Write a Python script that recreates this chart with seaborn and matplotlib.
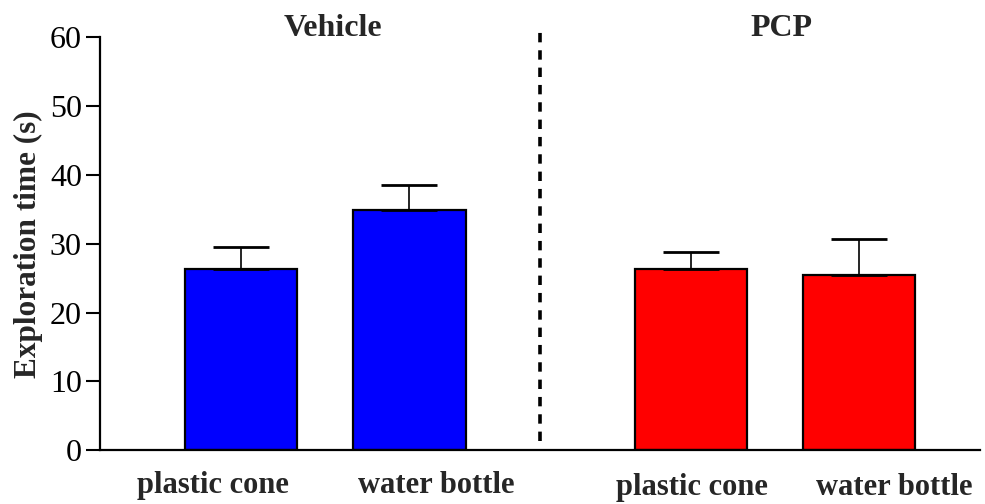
import matplotlib
matplotlib.use("Agg")
import matplotlib.pyplot as plt
import matplotlib.transforms as mtransforms
import seaborn as sns
import pandas as pd

# Exploration data: mean and SEM per object for each treatment group
groups = ["Vehicle", "Vehicle", "PCP", "PCP"]
objects = ["plastic cone", "water bottle", "plastic cone", "water bottle"]
means = [26.4, 34.9, 26.3, 25.4]
sems = [3.1, 3.7, 2.5, 5.3]
group_titles = ["Vehicle", "PCP"]
y_ticks = [0, 10, 20, 30, 40, 50, 60]

# bar positions along a numeric axis (gap between the two groups)
positions = [0.0, 1.0, 2.67, 3.67]

df = pd.DataFrame({"pos": positions, "group": groups, "object": objects,
                   "mean": means, "sem": sems})

sns.set_style("ticks")
plt.rcParams["font.family"] = ["Liberation Serif", "DejaVu Serif"]

fig = plt.figure(figsize=(9.85, 5.04), dpi=100)
ax = fig.add_axes([0.1015, 0.1071, 0.8934, 0.8185])

sns.barplot(data=df, x="pos", y="mean", hue="group", native_scale=True,
            palette={"Vehicle": "#0000FF", "PCP": "#FF0000"}, width=0.665,
            edgecolor="black", linewidth=1.6, errorbar=None, legend=False,
            saturation=1, ax=ax)

# upper-only SEM whiskers
ax.errorbar(df["pos"], df["mean"], yerr=[[0] * len(df), df["sem"]],
            fmt="none", ecolor="black", elinewidth=1.2, capsize=20.5,
            capthick=2.0, zorder=1)

ax.set_xlim(-0.837, 4.386)
ax.set_ylim(0, 60)
ax.set_yticks(y_ticks)
ax.set_yticklabels([str(t) for t in y_ticks], fontsize=23)
ax.tick_params(axis="y", length=10, width=1.5, pad=3, colors="black")
ax.set_xticks([])
ax.set_xlabel("")
ax.set_ylabel("Exploration time (s)", fontsize=22.5, fontweight="bold", labelpad=5)

for side in ("top", "right"):
    ax.spines[side].set_visible(False)
for side in ("left", "bottom"):
    ax.spines[side].set_linewidth(1.6)
    ax.spines[side].set_color("black")

# dashed divider between the treatment groups
ax.plot([1.774, 1.774], [1.3, 61.6], color="black", lw=2.6,
        dashes=(2.6, 2.2), clip_on=False)

# group headings
ax.text(0.546, 61.3, group_titles[0], ha="center", va="center",
        fontsize=23, fontweight="bold", clip_on=False)
ax.text(3.205, 61.3, group_titles[1], ha="center", va="center",
        fontsize=23, fontweight="bold", clip_on=False)

# object labels under the bars
trans = mtransforms.blended_transform_factory(ax.transData, ax.transAxes)
label_x = [-0.167, 1.158, 2.675, 3.88]
label_y = [-0.085, -0.085, -0.092, -0.092]
for lx, ly, name in zip(label_x, label_y, objects):
    ax.text(lx, ly, name, transform=trans, ha="center", va="center",
            fontsize=22, fontweight="bold")

fig.savefig("out.png", dpi=100)
